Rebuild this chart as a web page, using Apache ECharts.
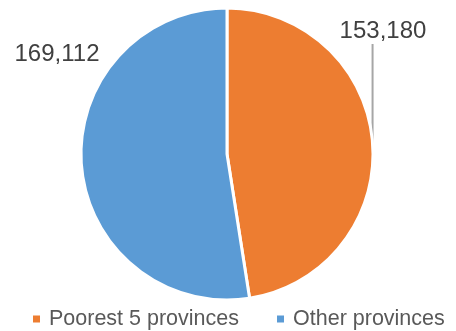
<!DOCTYPE html>
<html>
<head>
<meta charset="utf-8">
<script src="https://cdn.jsdelivr.net/npm/echarts@6/dist/echarts.min.js"></script>
<style>
  html, body { margin: 0; padding: 0; background: #fff; }
  #chart { width: 456px; height: 331px; }
</style>
</head>
<body>
<div id="chart"></div>
<script>
// Population split between the poorest provinces and the rest
const categories = ['Poorest 5 provinces', 'Other provinces'];
const values = [153180, 169112];
const colors = ['#ED7D31', '#5B9BD5'];

// Where each value label sits
const labelSpots = [
  { x: 383, y: 31 },
  { x: 57, y: 54 }
];

const chart = echarts.init(document.getElementById('chart'), null, { renderer: 'canvas' });

const fontFamily = '"Liberation Sans", Arial, sans-serif';

chart.setOption({
  animation: false,
  color: colors,
  legend: {
    data: categories,
    left: 31,
    top: 308,
    padding: 0,
    itemWidth: 9,
    itemHeight: 9,
    itemGap: 36,
    icon: 'rect',
    textStyle: {
      fontFamily: fontFamily,
      fontSize: 21.5,
      color: '#595959',
      padding: [0, 0, 0, 3]
    }
  },
  series: [{
    type: 'pie',
    center: [227, 154],
    radius: 146,
    startAngle: 90,
    clockwise: true,
    avoidLabelOverlap: false,
    itemStyle: { borderColor: '#ffffff', borderWidth: 3 },
    label: {
      show: true,
      position: 'outside',
      fontFamily: fontFamily,
      fontSize: 24,
      color: '#404040',
      formatter: p => p.value.toLocaleString('en-US')
    },
    labelLine: {
      show: true,
      length: 10,
      length2: 0,
      smooth: false,
      lineStyle: { color: '#A6A6A6', width: 2 }
    },
    labelLayout: function (params) {
      const spot = labelSpots[params.dataIndex];
      const out = {
        x: spot.x,
        y: spot.y,
        align: 'center',
        verticalAlign: 'middle'
      };
      if (params.dataIndex === 0 && params.labelLinePoints) {
        // vertical leader from the arc's mid point up to the label
        const anchor = params.labelLinePoints[0];
        const labelBottom = spot.y + params.labelRect.height / 2 + 1;
        out.labelLinePoints = [anchor, [anchor[0], labelBottom]];
      }
      return out;
    },
    data: categories.map((name, i) => ({
      name: name,
      value: values[i],
      labelLine: { show: i === 0 }
    }))
  }]
});
</script>
</body>
</html>
